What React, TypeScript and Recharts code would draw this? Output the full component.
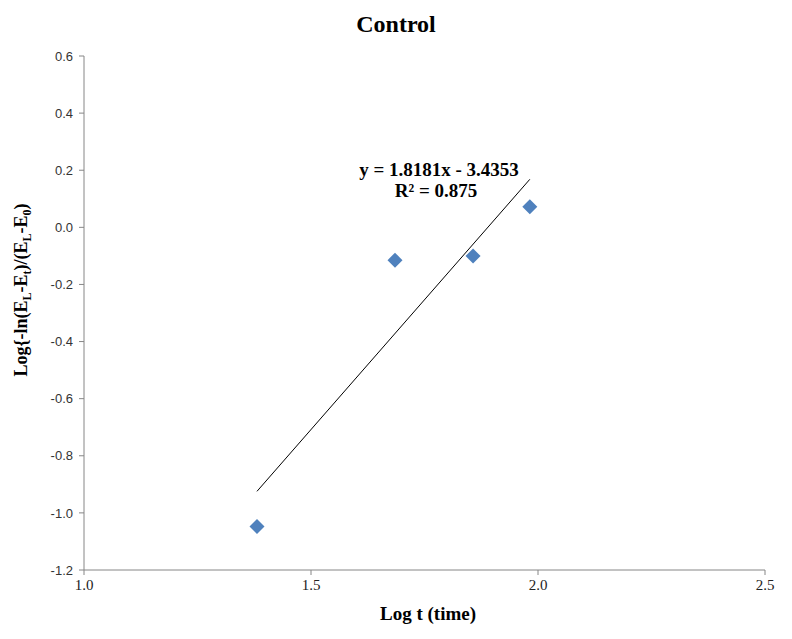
import React from "react";
import { ComposedChart, Scatter, XAxis, YAxis, ReferenceLine } from "recharts";

if (typeof document !== "undefined") document.body.style.margin = "0";

const logTime = [1.381, 1.685, 1.857, 1.982];
const lnRatio = [-1.048, -0.115, -0.1, 0.072];
const xTicks = [1.0, 1.5, 2.0, 2.5];
const yTicks = [-1.2, -1.0, -0.8, -0.6, -0.4, -0.2, 0.0, 0.2, 0.4, 0.6];
const slope = 1.8181;
const intercept = -3.4353;

const points = logTime.map((x, i) => ({ x, y: lnRatio[i] }));
const trendX = [logTime[0], logTime[logTime.length - 1]];
const trend = trendX.map((x) => ({ x, y: slope * x + intercept }));

const axisColor = "#868686";
const serif = "'Liberation Serif', 'Times New Roman', serif";
const sans = "'Liberation Sans', Arial, sans-serif";

const Diamond = (props: any) => {
  const { cx, cy } = props;
  const r = 7.5;
  return <polygon points={`${cx},${cy - r} ${cx + r},${cy} ${cx},${cy + r} ${cx - r},${cy}`} fill="#4F81BD" />;
};

const YTitle = () => (
  <text x={27} y={290} transform="rotate(-90 27 290)" textAnchor="middle" fontFamily={serif} fontWeight="bold" fontSize={18} fill="#000">
    Log{"{"}-ln(E<tspan fontSize={12} dy={4}>L</tspan><tspan dy={-4}>-E</tspan><tspan fontSize={12} dy={4}>t</tspan>
    <tspan dy={-4}>)/(E</tspan><tspan fontSize={12} dy={4}>L</tspan><tspan dy={-4}>-E</tspan><tspan fontSize={12} dy={4}>0</tspan>
    <tspan dy={-4}>)</tspan>
  </text>
);

export default function App() {
  return (
    <div style={{ width: 792, height: 639, background: "#fff", position: "relative" }}>
      <ComposedChart width={792} height={639} margin={{ top: 56, right: 27, left: 0, bottom: 0 }}>
        <text x={396} y={32} textAnchor="middle" fontFamily={serif} fontWeight="bold" fontSize={24} fill="#000">
          Control
        </text>
        <XAxis
          type="number"
          dataKey="x"
          domain={[1, 2.5]}
          ticks={xTicks}
          tickFormatter={(v: number) => v.toFixed(1)}
          height={69}
          stroke={axisColor}
          tickSize={5}
          tick={{ fill: "#222", fontFamily: serif, fontSize: 15 }}
          tickMargin={4}
          allowDataOverflow
        />
        <YAxis
          type="number"
          dataKey="y"
          domain={[-1.2, 0.6]}
          ticks={yTicks}
          tickFormatter={(v: number) => v.toFixed(1)}
          width={84}
          stroke={axisColor}
          tickSize={5}
          tick={{ fill: "#333", fontFamily: sans, fontSize: 13 }}
          tickMargin={6}
          allowDataOverflow
        />
        <ReferenceLine segment={trend} stroke="#000" strokeWidth={1} ifOverflow="visible" />
        <Scatter data={points} shape={<Diamond />} isAnimationActive={false} />
        <text x={439} y={176} textAnchor="middle" fontFamily={serif} fontWeight="bold" fontSize={19} fill="#000">
          y = 1.8181x - 3.4353
        </text>
        <text x={436} y={197} textAnchor="middle" fontFamily={serif} fontWeight="bold" fontSize={19} fill="#000">
          R² = 0.875
        </text>
        <text x={428} y={620} textAnchor="middle" fontFamily={serif} fontWeight="bold" fontSize={19} fill="#000">
          Log t (time)
        </text>
        <YTitle />
      </ComposedChart>
    </div>
  );
}
